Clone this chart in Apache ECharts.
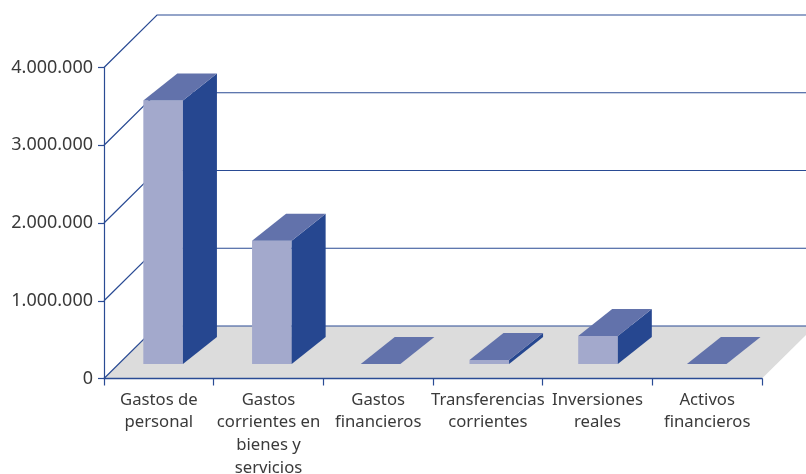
<!DOCTYPE html>
<html>
<head>
<meta charset="utf-8">
<title>Gastos</title>
<script src="https://cdn.jsdelivr.net/npm/echarts@6/dist/echarts.min.js"></script>
<style>
  html, body { margin: 0; padding: 0; background: #fff; }
  #chart { width: 806px; height: 474px; }
</style>
</head>
<body>
<div id="chart"></div>
<script>
const categories = [
  'Gastos de\npersonal',
  'Gastos\ncorrientes en\nbienes y\nservicios',
  'Gastos\nfinancieros',
  'Transferencias\ncorrientes',
  'Inversiones\nreales',
  'Activos\nfinancieros'
];
const barValues = [3390000, 1585000, 0, 50000, 360000, 0];
const tickValues = [0, 1000000, 2000000, 3000000, 4000000];

// fake 3d offsets, in px
const WALL_DX = 53;
const WALL_DY = 52.5;
const BAR_W = 39.6;
const BAR_DX = 34;
const BAR_DY = 27;
const BAR_LIFT = 14.5;

const LINE = '#2a4b94';

function fmt(v) {
  return String(v).replace(/\B(?=(\d{3})+$)/g, '.');
}

function poly(points, color, stroke) {
  return {
    type: 'polygon',
    shape: { points: points },
    style: { fill: color, stroke: stroke || color, lineWidth: stroke ? 0.6 : 0 }
  };
}

function renderFloor(params, api) {
  const step = api.size([1, 0])[0];
  const left = api.coord([0, 0]);
  const x0 = left[0] - step / 2;
  const x1 = x0 + step * categories.length;
  const y = left[1];
  return poly(
    [[x0, y], [x0 + WALL_DX, y - WALL_DY], [x1 + WALL_DX, y - WALL_DY], [x1, y]],
    '#dcdcdc'
  );
}

function renderWall(params, api) {
  const p = api.coord([0, api.value(1)]);
  const x0 = p[0] - api.size([1, 0])[0] / 2;
  return {
    type: 'polyline',
    shape: {
      points: [[x0, p[1]], [x0 + WALL_DX, p[1] - WALL_DY], [830, p[1] - WALL_DY]]
    },
    style: { fill: null, stroke: LINE, lineWidth: 1.2 }
  };
}

function renderBar(params, api) {
  const idx = api.value(0);
  const top = api.coord([idx, api.value(1)]);
  const base = api.coord([idx, 0]);
  const x = top[0] - 15.5 - idx * 0.95;
  const yT = top[1] - BAR_LIFT;
  const yB = base[1] - BAR_LIFT;
  const children = [];
  if (yB - yT > 0) {
    children.push(poly([[x, yT], [x + BAR_W, yT], [x + BAR_W, yB], [x, yB]], '#a3a9cc'));
    children.push(poly(
      [[x + BAR_W, yT], [x + BAR_W + BAR_DX, yT - BAR_DY], [x + BAR_W + BAR_DX, yB - BAR_DY], [x + BAR_W, yB]],
      '#264790'
    ));
  }
  children.push(poly(
    [[x, yT], [x + BAR_DX, yT - BAR_DY], [x + BAR_W + BAR_DX, yT - BAR_DY], [x + BAR_W, yT]],
    '#6272ab'
  ));
  return { type: 'group', children: children };
}

const textFont = '"Noto Sans", sans-serif';

const chart = echarts.init(document.getElementById('chart'), null, { renderer: 'canvas' });
chart.setOption({
  animation: false,
  backgroundColor: '#fff',
  grid: { left: 104, top: 67.5, width: 658, height: 311, outerBoundsMode: 'none' },
  xAxis: {
    type: 'category',
    data: categories,
    z: 5,
    axisLine: { lineStyle: { color: LINE, width: 1.4 } },
    axisTick: { show: true, alignWithLabel: false, length: 7, lineStyle: { color: LINE, width: 1.2 } },
    axisLabel: {
      interval: 0,
      margin: 10,
      fontSize: 16.7,
      lineHeight: 22.7,
      color: '#3a3a3a',
      fontFamily: textFont
    }
  },
  yAxis: {
    type: 'value',
    min: 0,
    max: 4000000,
    interval: 1000000,
    z: 5,
    axisLine: { show: true, lineStyle: { color: LINE, width: 1.2 } },
    axisTick: { show: true, length: 6, lineStyle: { color: LINE, width: 1.2 } },
    splitLine: { show: false },
    axisLabel: {
      margin: 11,
      fontSize: 18,
      padding: [2, 0, 0, 0],
      color: '#3a3a3a',
      fontFamily: textFont,
      formatter: fmt
    }
  },
  series: [
    { type: 'custom', silent: true, z: 1, clip: false, data: [[0, 0]], renderItem: renderFloor },
    { type: 'custom', silent: true, z: 2, clip: false, data: tickValues.map(v => [0, v]), renderItem: renderWall },
    { type: 'custom', silent: true, z: 3, clip: false, data: categories.map((c, i) => [i, barValues[i]]), renderItem: renderBar }
  ]
});
</script>
</body>
</html>
